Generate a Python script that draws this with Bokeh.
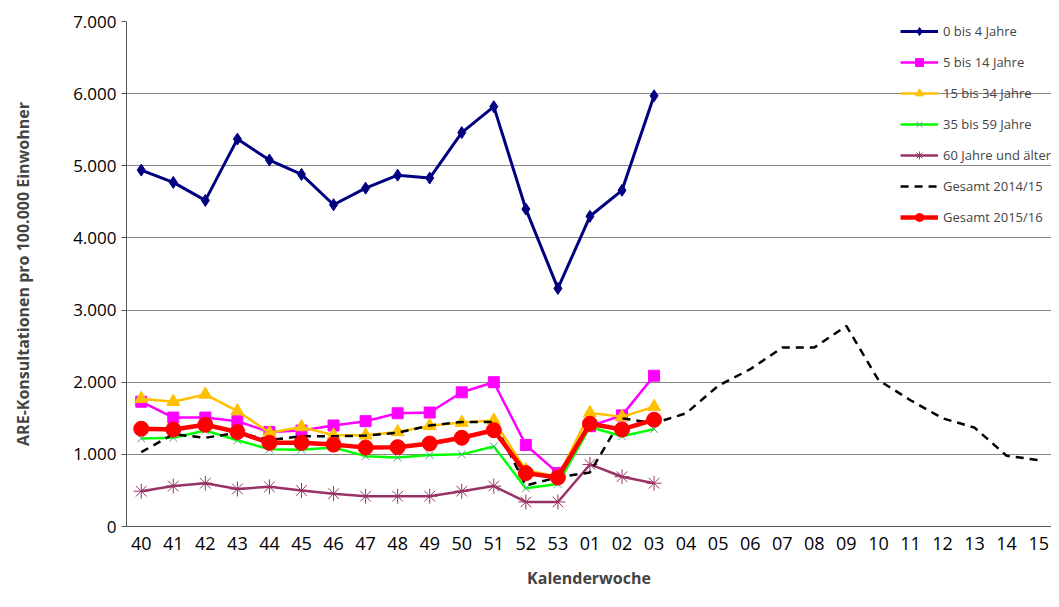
from bokeh.plotting import figure
from bokeh.models import Legend, LegendItem, Range1d, FixedTicker
from bokeh.embed import file_html
from bokeh.resources import INLINE

weeks = ["40", "41", "42", "43", "44", "45", "46", "47", "48", "49", "50", "51", "52", "53",
         "01", "02", "03", "04", "05", "06", "07", "08", "09", "10", "11", "12", "13", "14", "15"]

age_0_4 = [4940, 4770, 4520, 5370, 5080, 4880, 4460, 4690, 4870, 4830, 5460, 5820, 4400, 3300, 4300, 4660, 5970]
age_5_14 = [1730, 1510, 1510, 1460, 1310, 1330, 1400, 1460, 1570, 1580, 1860, 2000, 1130, 740, 1390, 1540, 2090]
age_15_34 = [1770, 1730, 1830, 1600, 1300, 1380, 1265, 1265, 1310, 1395, 1440, 1470, 780, 690, 1575, 1520, 1660]
age_35_59 = [1220, 1230, 1330, 1195, 1070, 1065, 1095, 975, 955, 990, 1000, 1110, 530, 590, 1380, 1250, 1350]
age_60 = [490, 560, 600, 520, 550, 500, 455, 420, 420, 420, 490, 560, 340, 340, 860, 690, 600]
total_1415 = [1030, 1280, 1230, 1300, 1200, 1250, 1250, 1260, 1300, 1400, 1450, 1450, 570, 680, 750, 1500,
              1430, 1570, 1950, 2180, 2480, 2480, 2780, 2030, 1750, 1500, 1370, 980, 920]
total_1516 = [1355, 1345, 1410, 1310, 1160, 1160, 1135, 1095, 1100, 1150, 1230, 1335, 740, 680, 1425, 1345, 1480]

p = figure(width=1051, height=591, output_backend="svg", toolbar_location=None,
           x_range=Range1d(-0.46, 28.4), y_range=Range1d(0, 7000),
           min_border_left=126, min_border_right=0, min_border_top=21, min_border_bottom=60)
p.outline_line_color = None
p.xgrid.grid_line_color = None
p.ygrid.grid_line_color = "#878787"
p.ygrid.grid_line_width = 1

p.yaxis.ticker = FixedTicker(ticks=list(range(0, 7001, 1000)))
p.yaxis.major_label_overrides = {v: "{:,}".format(v).replace(",", ".") for v in range(0, 7001, 1000)}
p.yaxis.major_label_text_font_size = "17px"
p.yaxis.axis_label = "ARE-Konsultationen pro 100.000 Einwohner"
p.yaxis.axis_label_text_font_style = "bold"
p.yaxis.axis_label_text_font_size = "16px"
p.yaxis.axis_label_standoff = 36
p.xaxis.ticker = FixedTicker(ticks=list(range(len(weeks))))
p.xaxis.major_label_overrides = {i: w for i, w in enumerate(weeks)}
p.xaxis.major_label_text_font_size = "18px"
p.xaxis.axis_label = "Kalenderwoche"
p.xaxis.axis_label_text_font_style = "bold"
p.xaxis.axis_label_text_font_size = "16px"
p.xaxis.axis_label_standoff = 14
for ax in (p.xaxis, p.yaxis):
    ax.axis_label_text_font = "Open Sans"
    ax.major_label_text_font = "Open Sans"
    ax.major_label_text_color = "black"
    ax.minor_tick_line_color = None
    ax.axis_line_color = "#555555"
    ax.major_tick_line_color = "#555555"
    ax.major_tick_in = 0
    ax.major_tick_out = 5
p.xaxis.major_tick_line_color = None

xs = list(range(len(age_0_4)))
xall = list(range(len(total_1415)))
items = []

r = p.line(xs, age_0_4, color="#000080", line_width=3)
m = p.scatter(xs, age_0_4, marker="diamond", size=12, color="#000080")
items.append(LegendItem(label="0 bis 4 Jahre", renderers=[r, m]))

r = p.line(xs, age_5_14, color="#FF00FF", line_width=2.5)
m = p.scatter(xs, age_5_14, marker="square", size=11, color="#FF00FF")
items.append(LegendItem(label="5 bis 14 Jahre", renderers=[r, m]))

r = p.line(xs, age_15_34, color="#FFC000", line_width=2.5)
m = p.scatter(xs, age_15_34, marker="triangle", size=13, color="#FFC000")
items.append(LegendItem(label="15 bis 34 Jahre", renderers=[r, m]))

r = p.line(xs, age_35_59, color="#00FF00", line_width=2.5)
m = p.scatter(xs, age_35_59, marker="x", size=11, line_color="#4BAC7F", line_width=1)
items.append(LegendItem(label="35 bis 59 Jahre", renderers=[r, m]))

r = p.line(xs, age_60, color="#993366", line_width=2.5)
m = p.scatter(xs, age_60, marker="asterisk", size=15, line_color="#993366", line_width=1)
items.append(LegendItem(label="60 Jahre und älter", renderers=[r, m]))

r = p.line(xall, total_1415, color="black", line_width=2.5, line_dash="8 6")
items.append(LegendItem(label="Gesamt 2014/15", renderers=[r]))

r = p.line(xs, total_1516, color="#FF0000", line_width=4.5)
m = p.scatter(xs, total_1516, marker="circle", size=15, color="#FF0000")
items.append(LegendItem(label="Gesamt 2015/16", renderers=[r, m]))

legend = Legend(items=items, location="top_right", border_line_color=None,
                background_fill_alpha=0, label_text_font="Open Sans",
                label_text_font_size="13px", glyph_width=38, spacing=11,
                margin=0, padding=4)
p.add_layout(legend)

open("out.html", "w").write(file_html(p, INLINE))
